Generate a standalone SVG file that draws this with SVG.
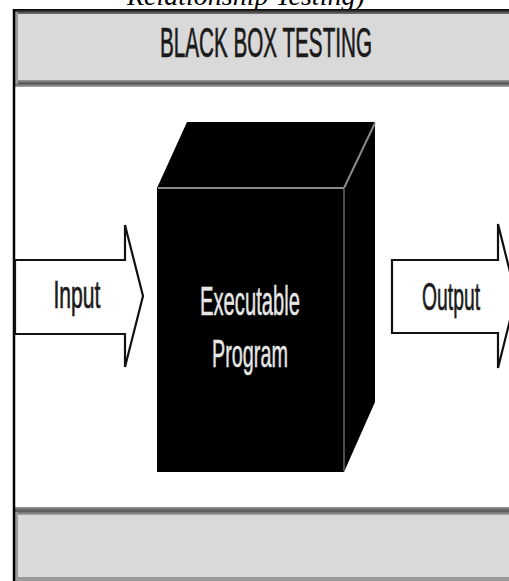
<svg xmlns="http://www.w3.org/2000/svg" width="509" height="581" viewBox="0 0 509 581">
  <defs>
    <style>
      .lbl { font-family: "Liberation Sans", Arial, sans-serif; }
      .dark { fill: #1a1a1a; stroke: #1a1a1a; stroke-width: 0.7; }
      .light { fill: #e6e6e6; stroke: #e6e6e6; stroke-width: 0.5; }
      .arrow { fill: #ffffff; stroke: #111111; stroke-width: 2.2; stroke-linejoin: miter; }
      .cube { fill: #000000; }
      .edge { stroke: #8a8a8a; stroke-width: 2; fill: none; }
    </style>
    <linearGradient id="topEdge" x1="0" y1="0" x2="0" y2="1">
      <stop offset="0" stop-color="#000"/>
      <stop offset="1" stop-color="#777"/>
    </linearGradient>
    <linearGradient id="shadow" x1="0" y1="0" x2="0" y2="1">
      <stop offset="0" stop-color="#999"/>
      <stop offset="0.5" stop-color="#555"/>
      <stop offset="1" stop-color="#aaa"/>
    </linearGradient>
  </defs>
  <rect x="0" y="0" width="509" height="581" fill="#ffffff"/>

  <text x="127" y="5" font-family="'Liberation Serif', 'Times New Roman', serif" font-style="italic" font-size="28" fill="#000">Relationship Testing)</text>

  <g id="title-banner">
    <rect x="15" y="10" width="500" height="76" fill="#d9d9d9"/>
    <rect x="15" y="9" width="500" height="5" fill="url(#topEdge)"/>
    <rect x="15" y="80" width="500" height="7" fill="url(#shadow)"/>
    <rect x="15" y="12" width="3" height="72" fill="#9a9a9a"/>
    <text class="lbl dark" x="160" y="57" font-size="42" textLength="212" lengthAdjust="spacingAndGlyphs">BLACK BOX TESTING</text>
  </g>

  <g id="bottom-banner">
    <rect x="15" y="508" width="500" height="73" fill="#d9d9d9"/>
    <rect x="15" y="507" width="500" height="8" fill="url(#shadow)"/>
    <rect x="15" y="577" width="500" height="4" fill="#9a9a9a"/>
    <rect x="15" y="512" width="3" height="66" fill="#9a9a9a"/>
  </g>

  <line x1="14" y1="9" x2="14" y2="581" stroke="#000" stroke-width="2.5"/>

  <g id="connectors">
    <g id="input-arrow">
      <polygon class="arrow" points="15,260 125,260 125,225 143,296 125,367 125,334 15,334"/>
      <text class="lbl dark" x="77" y="308" font-size="39" text-anchor="middle" textLength="47" lengthAdjust="spacingAndGlyphs">Input</text>
    </g>
    <g id="output-arrow">
      <polygon class="arrow" points="392,260 498,260 498,224 516,296 498,368 498,333 392,333"/>
      <text class="lbl dark" x="451" y="310" font-size="39" text-anchor="middle" textLength="58" lengthAdjust="spacingAndGlyphs">Output</text>
    </g>
  </g>

  <g id="executable-program">
    <polygon class="cube" points="157,188 187,122 375,122 344,188"/>
    <polygon class="cube" points="344,188 375,122 375,402 344,472"/>
    <rect class="cube" x="157" y="188" width="187" height="284"/>
    <line class="edge" x1="158" y1="188" x2="344" y2="188"/>
    <line class="edge" x1="344" y1="188" x2="375" y2="123"/>
    <line x1="344" y1="189" x2="344" y2="471" stroke="#666" stroke-width="1.5"/>
    <text class="lbl light" x="250" y="315" font-size="40" text-anchor="middle" textLength="100" lengthAdjust="spacingAndGlyphs">Executable</text>
    <text class="lbl light" x="250" y="367" font-size="39" text-anchor="middle" textLength="76" lengthAdjust="spacingAndGlyphs">Program</text>
  </g>
</svg>
